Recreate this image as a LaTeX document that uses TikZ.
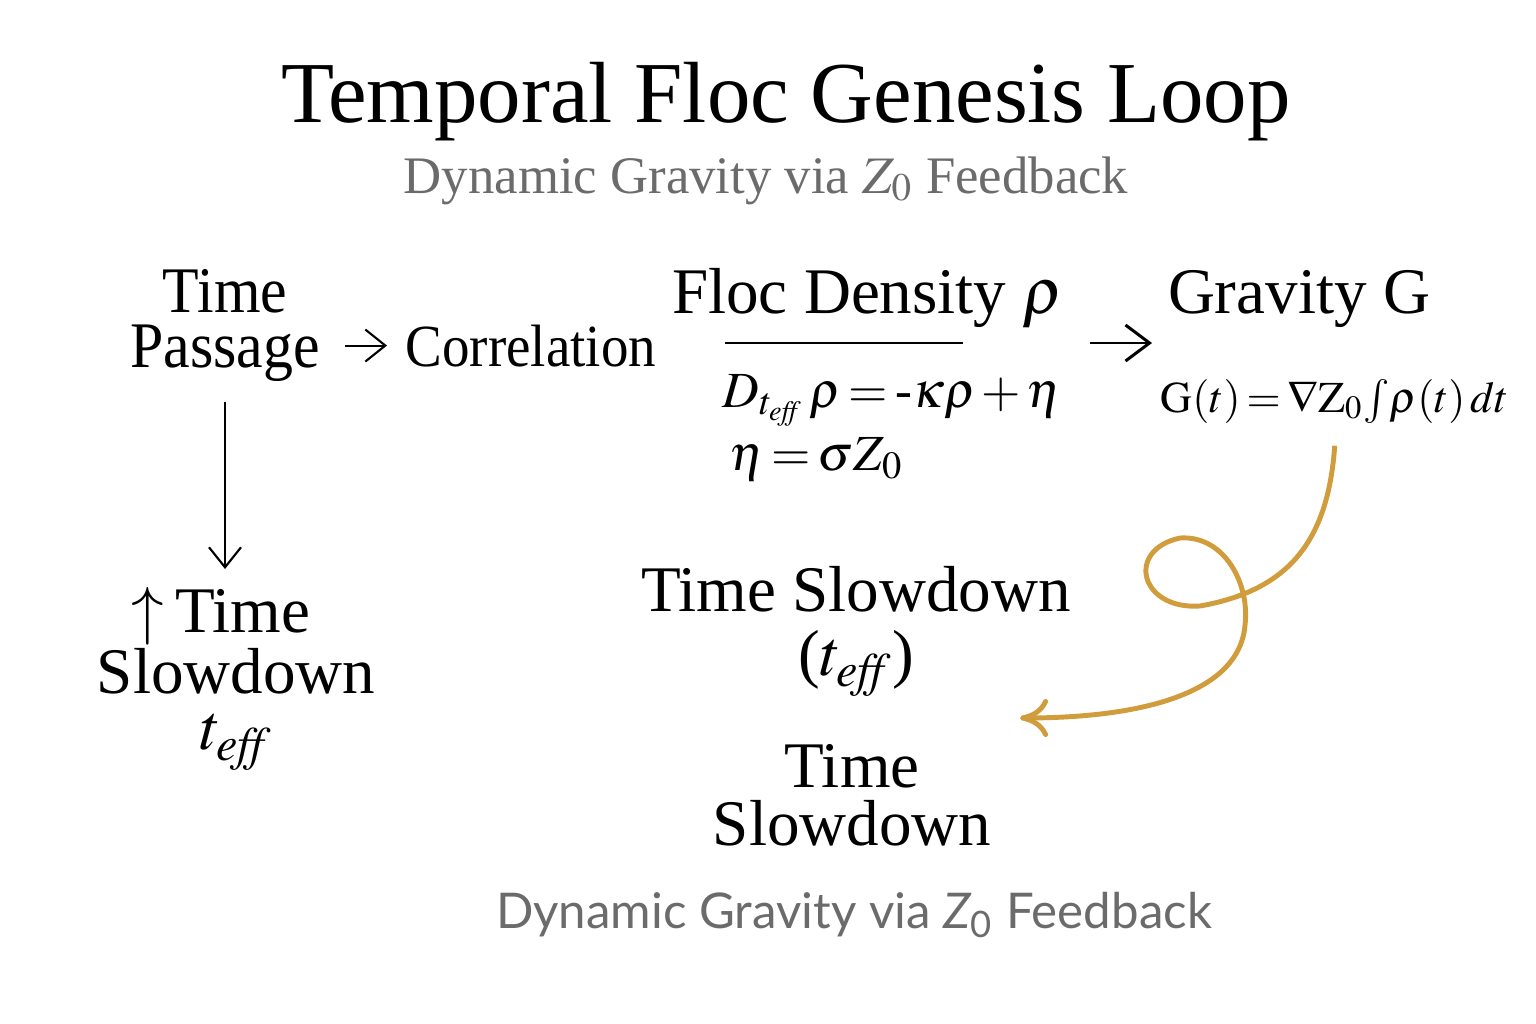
\documentclass[tikz,border=0pt]{standalone}
\usepackage{amsmath}
\usepackage{mathptmx}
\usepackage{xcolor}
\usepackage{fontspec}
\setmainfont{Liberation Serif}
\newfontfamily\narrowfont[FakeStretch=0.92]{Liberation Serif}
\newfontfamily\footfont{Lato}
\usepackage{tikz}
\usetikzlibrary{arrows.meta, positioning}

\definecolor{subgray}{HTML}{6B6B6B}
\definecolor{loopgold}{HTML}{D09C3C}

\newcommand{\tightmath}{\thickmuskip=2.5mu\medmuskip=2mu}

\tikzset{
  lbl/.style={align=center, inner sep=0pt, font=\fontsize{18.5}{#1}\selectfont},
  lbl/.default=15.6pt,
  eqn/.style={inner sep=0pt, font=\fontsize{#1}{18}\selectfont\tightmath},
  eqn/.default=14.4,
  flow/.style={-{Straight Barb[length=2mm, width=3.2mm]}, line width=0.6pt},
  bigflow/.style={-{Straight Barb[length=2.4mm, width=3.6mm]}, line width=0.85pt},
  goldloop/.style={-{Computer Modern Rightarrow[length=2.8mm, width=3.8mm]}, line width=1.4pt, draw=loopgold, color=loopgold},
}

\begin{document}
\begin{tikzpicture}[x=0.01cm, y=-0.01cm]
    \useasboundingbox (0,0) rectangle (1536,1024);

    % Heading
    \node[inner sep=0pt, anchor=base, font=\fontsize{24.7}{28}\selectfont] (title) at (786,122) {Temporal Floc Genesis Loop};
    \node[inner sep=0pt, anchor=base, text=subgray, font=\fontsize{15}{18}\selectfont] (subtitle) at (766,193) {Dynamic Gravity via $Z_0$ Feedback};

    % Left column
    \node[align=center, inner sep=0pt, anchor=north, font=\narrowfont\fontsize{18.5}{15.6pt}\selectfont] (passage) at (225,269) {Time\\Passage};
    \node[inner sep=0pt, anchor=base, font=\narrowfont\fontsize{17}{20}\selectfont] (corr) at (531,366) {Correlation};
    \node[lbl=16pt, anchor=north] (slowL) at (236,586) {$\uparrow$\,Time\hspace*{0.3cm}\\Slowdown\\$t_{\mathit{eff}}$};

    % Density block
    \node[lbl, anchor=base] (dens) at (868,313) {Floc Density $\rho$};
    \coordinate (ruleL) at (725,343);
    \coordinate (ruleR) at (963,343);
    \draw[line width=0.75pt] (ruleL) -- (ruleR);
    \node[eqn, anchor=base west] (eqD) at (722,407) {$D_{t_{\mathit{eff}}}\,\rho = \text{-}\kappa\rho + \eta$};
    \node[eqn, anchor=base west] (eqEta) at (729,470) {$\eta = \sigma Z_0$};

    % Gravity block
    \node[lbl, anchor=base] (grav) at (1299,313) {Gravity G};
    \node[eqn=12.5, anchor=base west] (eqG) at (1160,412) {$\mathrm{G}(t) = \nabla\mathrm{Z}_0\!\int\!\rho(t)\,dt$};

    % Slowdown labels
    \node[lbl=18.2pt, anchor=north] (slowM) at (856,566) {Time Slowdown\\($t_{\mathit{eff}}$)};
    \node[lbl=16.5pt, anchor=north] (slowB) at (852,744) {Time\\Slowdown};
    \node[inner sep=0pt, anchor=base, text=subgray, font=\footfont\fontsize{14}{17}\selectfont] (footer) at (854,928) {Dynamic Gravity via {\itshape Z}\textsubscript{0} Feedback};

    % Connectors
    \draw[flow, shorten <=0.25cm, shorten >=0.18cm] (passage.east |- corr.west) -- (corr.west);
    \draw[flow, shorten <=0.2cm, shorten >=0.17cm] (passage.south) -- (passage.south |- slowL.north);
    \draw[bigflow] ([xshift=0.28cm]eqD.east |- ruleR) -- ([xshift=-0.08cm]eqG.west |- ruleR);

    % Feedback loop
    \coordinate (loopend) at (1020,718);
    \draw[goldloop] ([yshift=-0.22cm]eqG.south) .. controls (1328,540) and (1290,590) .. (1200,606)
        .. controls (1140,610) and (1125,550) .. (1180,538)
        .. controls (1225,535) and (1250,585) .. (1245,625)
        .. controls (1240,690) and (1150,718) .. (loopend);
\end{tikzpicture}
\end{document}
